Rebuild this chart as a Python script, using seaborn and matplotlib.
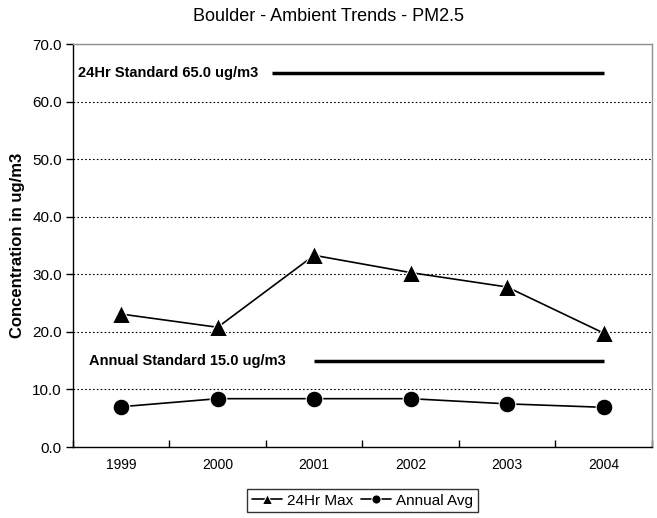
import matplotlib
matplotlib.use("Agg")
import matplotlib.pyplot as plt
import seaborn as sns
import pandas as pd

years = ["1999", "2000", "2001", "2002", "2003", "2004"]
max_24hr = [23.1, 20.8, 33.3, 30.3, 27.8, 19.8]
annual_avg = [7.0, 8.4, 8.4, 8.4, 7.5, 6.9]
std_24hr = 65.0
std_annual = 15.0

sns.set_style("white")
plt.rcParams["font.family"] = ["Liberation Sans Narrow", "Liberation Sans", "DejaVu Sans"]
plt.rcParams["text.color"] = "black"
plt.rcParams["axes.labelcolor"] = "black"
plt.rcParams["xtick.color"] = "black"
plt.rcParams["ytick.color"] = "black"

df = pd.DataFrame({"year": years, "24Hr Max": max_24hr, "Annual Avg": annual_avg})
pos = list(range(len(years)))

fig = plt.figure(figsize=(6.57, 5.18), dpi=100)
ax = fig.add_axes([0.111, 0.137, 0.881, 0.778])

sns.lineplot(x=pos, y=df["24Hr Max"], ax=ax, color="black", marker="^",
             markersize=13, linewidth=1.2, label="24Hr Max")
sns.lineplot(x=pos, y=df["Annual Avg"], ax=ax, color="black", marker="o",
             markersize=12, linewidth=1.2, label="Annual Avg")

# standard lines
ax.hlines(std_24hr, 1.56, 5, color="black", linewidth=2.5)
ax.hlines(std_annual, 2, 5, color="black", linewidth=2.5)
ax.text(-0.45, std_24hr, "24Hr Standard 65.0 ug/m3", fontsize=10.5,
        fontweight="bold", va="center")
ax.text(-0.33, std_annual, "Annual Standard 15.0 ug/m3", fontsize=10.5,
        fontweight="bold", va="center")

ax.set_xlim(-0.5, 5.5)
ax.set_ylim(0, 70)
ax.set_yticks(range(0, 71, 10))
ax.set_yticklabels([f"{v:.1f}" for v in range(0, 71, 10)], fontsize=11)
ax.set_xticks(pos)
ax.set_xticklabels(years, fontsize=10)
ax.set_xticks([p - 0.5 for p in pos] + [pos[-1] + 0.5], minor=True)
ax.tick_params(axis="x", which="major", length=0, pad=8)
ax.tick_params(axis="x", which="minor", direction="in", length=5, width=1,
               color="black", bottom=True)
ax.tick_params(axis="y", direction="out", length=5, width=1, color="black",
               left=True, pad=3)
ax.yaxis.grid(True, linestyle=(0, (1.5, 2)), color="black", linewidth=0.8)
ax.set_axisbelow(True)

for s in ["left", "bottom"]:
    ax.spines[s].set_color("black")
    ax.spines[s].set_linewidth(1)
for s in ["top", "right"]:
    ax.spines[s].set_color("#909090")
    ax.spines[s].set_linewidth(1)

ax.set_xlabel("")
ax.set_ylabel("Concentration in ug/m3", fontsize=12, fontweight="bold", labelpad=5,
              family=["Liberation Sans", "DejaVu Sans"])
fig.suptitle("Boulder - Ambient Trends - PM2.5", fontsize=13, y=0.985)

leg = ax.legend(loc="upper center", bbox_to_anchor=(0.5, -0.085), ncol=2,
                frameon=True, fancybox=False, edgecolor="black", fontsize=11,
                handlelength=2.0, handletextpad=0.3, columnspacing=0.5,
                borderpad=0.3, markerscale=0.55)
leg.get_frame().set_linewidth(1)

fig.savefig("out.png", dpi=100)
